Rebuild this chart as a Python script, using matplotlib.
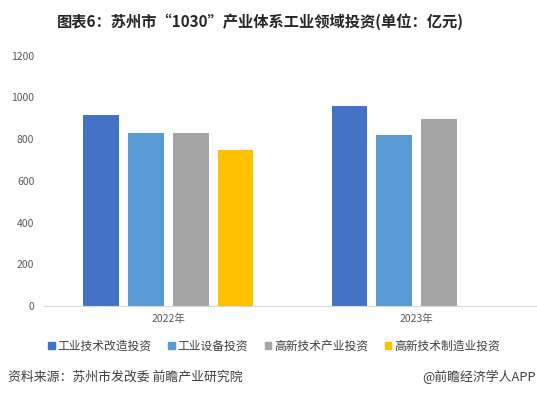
import numpy as np
import matplotlib.pyplot as plt
from matplotlib.patches import Patch

plt.rcParams['font.family'] = ['Noto Sans CJK SC', 'DejaVu Sans']

years = ['2022年', '2023年']
series = ['工业技术改造投资', '工业设备投资', '高新技术产业投资', '高新技术制造业投资']
values = [
    [916, 959],
    [830, 820],
    [830, 897],
    [748, np.nan],
]
colors = ['#4472C4', '#5B9BD5', '#A5A5A5', '#FFC000']
yticks = [0, 200, 400, 600, 800, 1000, 1200]

W, H = 537, 398
fig = plt.figure(figsize=(W / 100, H / 100), dpi=100)
# axes wider than the figure: right part of the 2023 slot is cut off
ax = fig.add_axes([44 / W, 92 / H, 497 / W, 250.3 / H])

x = np.arange(len(years))
pitch = 0.181
width = 0.143
for i, (name, vals) in enumerate(zip(series, values)):
    offs = (i - 1.5) * pitch
    ax.bar(x + offs, vals, width=width, color=colors[i], label=name)

ax.set_xlim(-0.5, 1.5)
ax.set_ylim(0, 1200)
ax.set_yticks(yticks)
ax.set_xticks(x)
ax.set_xticklabels(years)
ax.tick_params(axis='both', length=0, labelsize=7.5, colors='#595959')
ax.tick_params(axis='y', pad=7)
ax.tick_params(axis='x', pad=6)
for s in ['top', 'right', 'left']:
    ax.spines[s].set_visible(False)
ax.spines['bottom'].set_color('#D9D9D9')

fig.text(260 / W, 1 - 22 / H, '图表6：苏州市“1030”产业体系工业领域投资(单位：亿元)',
         ha='center', va='center', fontsize=11, fontweight='bold', color='#262626')

handles = [Patch(color=c, label=n) for c, n in zip(colors, series)]
fig.legend(handles=handles, loc='center', bbox_to_anchor=(274 / W, 1 - 346 / H),
           ncol=4, frameon=False, fontsize=8.5, handlelength=0.55, handleheight=0.55,
           handletextpad=0.25, columnspacing=1.4, labelcolor='#404040')

fig.text(8 / W, 1 - 377 / H, '资料来源：苏州市发改委 前瞻产业研究院',
         ha='left', va='center', fontsize=9.3, color='#404040')
fig.text(536 / W, 1 - 377 / H, '@前瞻经济学人APP',
         ha='right', va='center', fontsize=9.3, color='#404040')

fig.savefig('out.png', dpi=100)
